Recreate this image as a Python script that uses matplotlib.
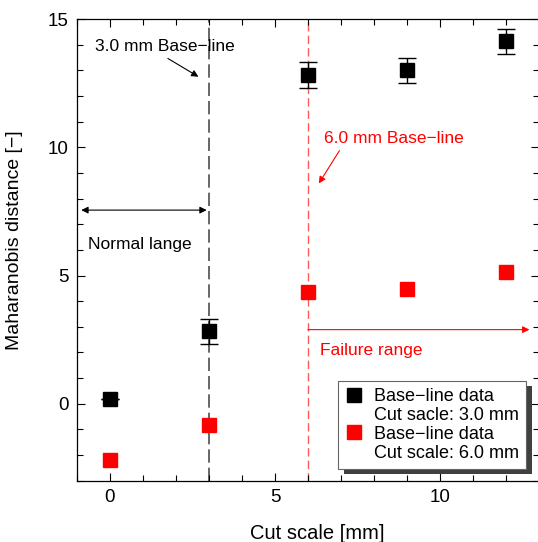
import matplotlib.pyplot as plt
from matplotlib.lines import Line2D
from matplotlib.patches import Rectangle
from matplotlib.transforms import IdentityTransform
from matplotlib.ticker import MultipleLocator

plt.rcParams['font.family'] = ['Liberation Sans', 'DejaVu Sans']

# Data
cut_scale = [0, 3, 6, 9, 12]
dist_base3 = [0.17, 2.82, 12.82, 13.0, 14.13]
err_base3 = [0.0, 0.5, 0.5, 0.49, 0.49]
dist_base6 = [-2.21, -0.82, 4.36, 4.49, 5.13]

fig = plt.figure(figsize=(5.38, 5.42), dpi=100)
ax = fig.add_axes([0.1431, 0.1131, 0.8587, 0.8518])

# Baselines
ax.axvline(3, color='0.3', lw=1.2, dashes=(8, 3), zorder=1)
ax.axvline(6, color='#ff5a5a', lw=1.0, dashes=(6, 3), zorder=1)

ax.errorbar(cut_scale, dist_base3, yerr=err_base3, fmt='s', color='black',
            ms=9.5, ecolor='black', elinewidth=1.0, capsize=6.5, capthick=1.0,
            zorder=3)
ax.plot(cut_scale, dist_base6, 's', color='red', ms=9.5, zorder=3)

# Annotations
ax.annotate('3.0 mm Base\u2212line', xy=(2.68, 12.75), xytext=(-0.45, 13.92),
            fontsize=12.5, color='black', va='center', ha='left',
            arrowprops=dict(arrowstyle='-|>', color='black', lw=0.8,
                            mutation_scale=10, shrinkA=2, shrinkB=0,
                            relpos=(0.47, 0.0)))
ax.annotate('6.0 mm Base\u2212line', xy=(6.33, 8.59), xytext=(6.5, 10.36),
            fontsize=12.5, color='red', va='center', ha='left',
            arrowprops=dict(arrowstyle='-|>', color='red', lw=0.8,
                            mutation_scale=10, shrinkA=2, shrinkB=0,
                            relpos=(0.13, 0.0)))
ax.annotate('', xy=(-0.87, 7.55), xytext=(2.93, 7.55),
            arrowprops=dict(arrowstyle='<|-|>', color='black', lw=0.8,
                            mutation_scale=10, shrinkA=0, shrinkB=0))
ax.text(-0.68, 6.19, 'Normal lange', fontsize=12.5, va='center', ha='left')
ax.annotate('', xy=(12.71, 2.89), xytext=(6.0, 2.89),
            arrowprops=dict(arrowstyle='-|>', color='red', lw=0.8,
                            mutation_scale=10, shrinkA=0, shrinkB=0))
ax.text(6.35, 2.08, 'Failure range', fontsize=12.5, color='red',
        va='center', ha='left')

ax.set_xlim(-1, 13)
ax.set_ylim(-3, 15)
ax.xaxis.set_major_locator(MultipleLocator(5))
ax.xaxis.set_minor_locator(MultipleLocator(1))
ax.yaxis.set_major_locator(MultipleLocator(5))
ax.yaxis.set_minor_locator(MultipleLocator(1))
ax.tick_params(which='both', direction='in', top=True, right=True,
               labelsize=13.5, width=0.8)
ax.tick_params(which='major', length=6, pad=6)
ax.tick_params(which='minor', length=4)
for s in ax.spines.values():
    s.set_linewidth(0.9)

ax.set_xlabel('Cut scale [mm]', fontsize=14.5)
ax.xaxis.set_label_coords(0.52, -0.094)
ax.set_ylabel('Maharanobis distance [\u2212]', fontsize=14)
ax.yaxis.set_label_coords(-0.117, 0.52)

empty = Line2D([], [], linestyle='none')
handles = [Line2D([], [], linestyle='none', marker='s', color='black', ms=9.5),
           empty,
           Line2D([], [], linestyle='none', marker='s', color='red', ms=9.5),
           empty]
labels = ['Base\u2212line data', 'Cut sacle: 3.0 mm',
          'Base\u2212line data', 'Cut scale: 6.0 mm']
leg = ax.legend(handles, labels, loc='upper left', bbox_to_anchor=(0.565, 0.216),
                fontsize=13, frameon=True, fancybox=False, edgecolor='0.4',
                facecolor='white', framealpha=1,
                handlelength=1.0, handletextpad=0.6, labelspacing=0.1,
                borderpad=0.4, borderaxespad=0)
leg.get_frame().set_linewidth(0.8)

# hand-made drop shadow for the legend box
fig.canvas.draw()
bb = leg.get_frame().get_window_extent()
shadow = Rectangle((bb.x0 + 6, bb.y0 - 5), bb.width, bb.height,
                   transform=IdentityTransform(), facecolor='0.25',
                   edgecolor='none', zorder=4.9, clip_on=False)
ax.add_patch(shadow)

fig.savefig('out.png', dpi=100)
